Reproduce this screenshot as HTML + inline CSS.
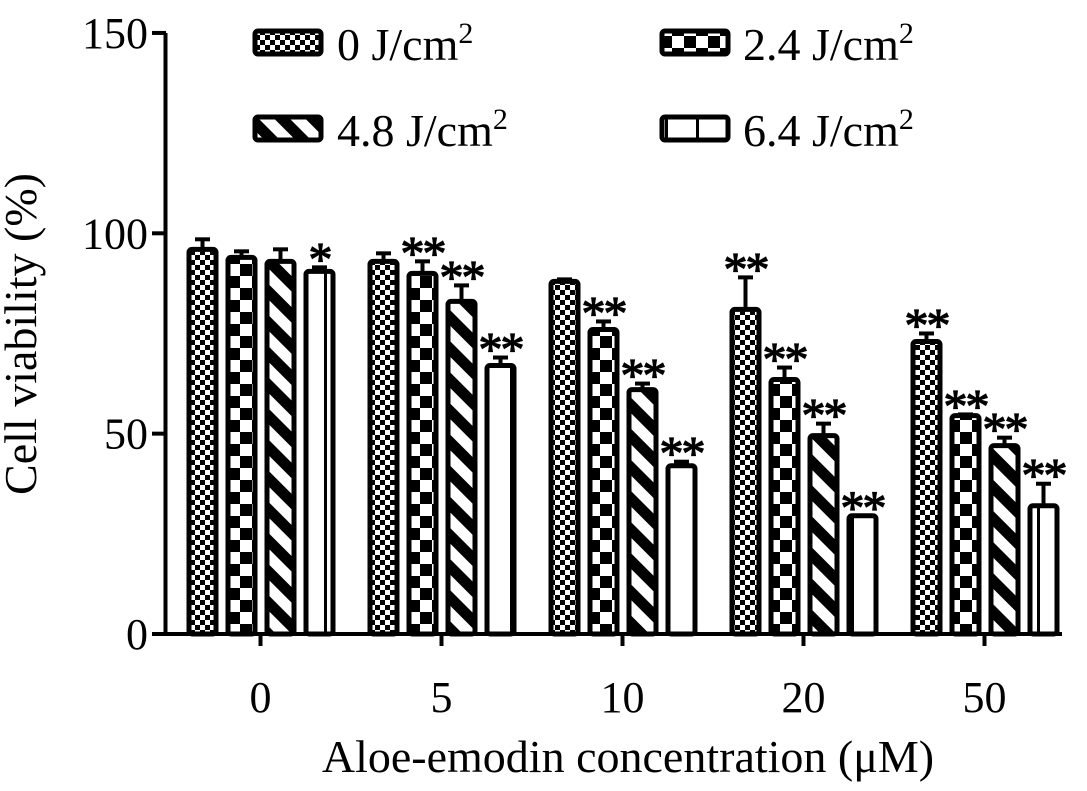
<!DOCTYPE html>
<html><head><meta charset="utf-8"><style>
body{margin:0;background:#fff}
svg{display:block;font-family:"Liberation Serif",serif}
</style></head><body>
<svg id="c" width="1087" height="791" viewBox="0 0 1087 791">
<defs>
<pattern id="p0" width="10" height="10" patternUnits="userSpaceOnUse"><rect width="10" height="10" fill="#fff"/><rect width="5" height="5" fill="#000"/><rect x="5" y="5" width="5" height="5" fill="#000"/></pattern>
<pattern id="p1" width="24" height="24" patternUnits="userSpaceOnUse"><rect width="24" height="24" fill="#fff"/><rect width="12" height="12" fill="#000"/><rect x="12" y="12" width="12" height="12" fill="#000"/></pattern>
<pattern id="p2" width="22" height="22" patternUnits="userSpaceOnUse" patternTransform="rotate(-45)"><rect width="22" height="22" fill="#fff"/><rect width="11" height="22" fill="#000"/></pattern>
<pattern id="p3" width="31" height="10" patternUnits="userSpaceOnUse"><rect width="31" height="10" fill="#fff"/><rect x="14" width="3" height="10" fill="#000"/></pattern>
</defs>
<g id="plot"></g>
<text x="36" y="334" transform="rotate(-90 36 334)" text-anchor="middle" font-size="46">Cell viability (%)</text>
<text x="628" y="772" text-anchor="middle" font-size="46">Aloe-emodin concentration (μM)</text>
<g>
<g><rect x="255" y="31" width="66" height="23" rx="3" fill="url(#p0)" stroke="#000" stroke-width="5"/><text x="337" y="60" font-size="46">0 J/cm<tspan dy="-17" font-size="30">2</tspan></text></g>
<g><rect x="662" y="31" width="66" height="23" rx="3" fill="url(#p1)" stroke="#000" stroke-width="5"/><text x="743" y="60" font-size="46">2.4 J/cm<tspan dy="-17" font-size="30">2</tspan></text></g>
<g><rect x="255" y="117" width="66" height="23" rx="3" fill="url(#p2)" stroke="#000" stroke-width="5"/><text x="337" y="146" font-size="46">4.8 J/cm<tspan dy="-17" font-size="30">2</tspan></text></g>
<g><rect x="662" y="117" width="66" height="23" rx="3" fill="url(#p3)" stroke="#000" stroke-width="5"/><text x="743" y="146" font-size="46">6.4 J/cm<tspan dy="-17" font-size="30">2</tspan></text></g>
</g>
</svg>
<script>
const categories=["0","5","10","20","50"];
const s0=[96,93,88,81,73];
const s1=[94,90,76,63.5,54.5];
const s2=[93,83,61,49.5,47];
const s3=[90.5,67,42,29.5,32];
const e0=[2.5,2,0.5,8,2];
const e1=[1.5,3,2,3,0.3];
const e2=[3,4,1.5,3,2];
const e3=[1,2,1,0,5.5];
const sig0=["","","","**","**"];
const sig1=["","**","**","**","**"];
const sig2=["","**","**","**","**"];
const sig3=["*","**","**","**","**"];
const yTicks=[0,50,100,150];
const series=[s0,s1,s2,s3],errs=[e0,e1,e2,e3],sigs=[sig0,sig1,sig2,sig3];
const NS="http://www.w3.org/2000/svg";
const g=document.getElementById('plot');
const y=v=>634-v*4.007;
const xc=i=>260.5+i*181;
const bx=(i,j)=>xc(i)-73.5+j*39;
function mk(t,a){const e=document.createElementNS(NS,t);for(const k in a)e.setAttribute(k,a[k]);g.appendChild(e);return e;}
categories.forEach((c,i)=>{
 series.forEach((s,j)=>{
  const x=bx(i,j),v=s[i],top=y(v+errs[j][i]);
  if(errs[j][i]>0.2){
   const l=mk('line',{x1:x+15.5,x2:x+15.5,y1:y(v),y2:top,stroke:'#000','stroke-width':4});
   
   
   const cp=mk('line',{x1:x+8,x2:x+23,y1:top,y2:top,stroke:'#000','stroke-width':4});
   
   
  }
  const r=mk('rect',{x:x+2,y:y(v),width:27,height:634-y(v),rx:3,fill:'url(#p'+j+')',stroke:'#000','stroke-width':5});
  
  
  if(sigs[j][i]){
   const t=mk('text',{x:x+15.5,y:top+8,'text-anchor':'middle','font-size':48,'letter-spacing':'-2',stroke:'#000','stroke-width':1.2});
   t.textContent=sigs[j][i];
   
   
  }
 });
 const t=mk('text',{x:xc(i),y:712,'text-anchor':'middle','font-size':44});
 t.textContent=c;
 
 
});
const ax=mk('path',{d:'M165.5 33 V634 H1062',fill:'none',stroke:'#000','stroke-width':4});


yTicks.forEach(v=>{
 const tk=mk('line',{x1:152,x2:166,y1:y(v),y2:y(v),stroke:'#000','stroke-width':4});
 
 
 const t=mk('text',{x:148,y:y(v)+15,'text-anchor':'end','font-size':44});
 t.textContent=v;
 
 
});
categories.forEach((c,i)=>{
 const tk=mk('line',{x1:xc(i),x2:xc(i),y1:634,y2:646,stroke:'#000','stroke-width':4});
 
 
});
</script>
</body></html>
